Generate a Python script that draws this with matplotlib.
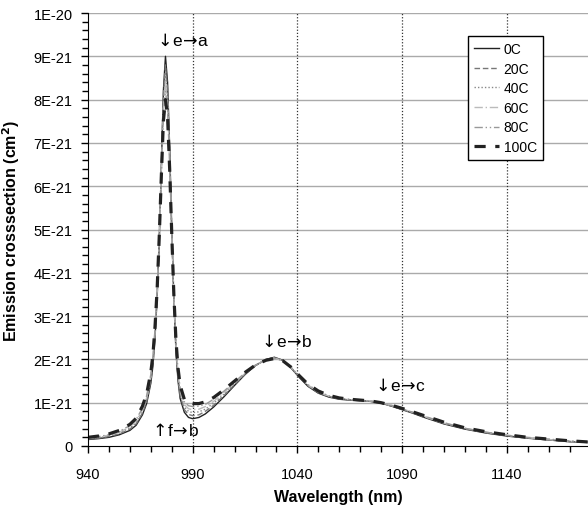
import matplotlib
matplotlib.use("Agg")
import matplotlib.pyplot as plt
from matplotlib.ticker import MultipleLocator, FixedLocator

plt.rcParams['font.family'] = ['Liberation Sans', 'DejaVu Sans']
plt.rcParams['mathtext.fontset'] = 'dejavusans'

# wavelength (nm)
wavelength = [940, 945, 950, 955, 960, 963, 966, 968, 970, 971, 972, 973, 974, 975,
              976, 977, 978, 979, 980, 981, 982, 983, 984, 986, 988, 990, 993, 996,
              1000, 1005, 1010, 1015, 1020, 1025, 1029, 1033, 1037, 1041, 1045, 1050,
              1055, 1060, 1065, 1070, 1075, 1080, 1085, 1090, 1095, 1100, 1110, 1120,
              1130, 1140, 1150, 1160, 1170, 1180]

# emission cross section, units of 1E-21 cm^2
sigma_0C = [0.15, 0.17, 0.20, 0.26, 0.36, 0.48, 0.72, 0.98, 1.45, 1.85, 2.50, 3.40, 4.70, 6.40,
            8.20, 9.00, 8.40, 6.90, 5.00, 3.40, 2.20, 1.50, 1.10, 0.78, 0.66, 0.63, 0.66, 0.74,
            0.90, 1.14, 1.40, 1.65, 1.86, 2.00, 2.05, 1.98, 1.80, 1.58, 1.38, 1.22,
            1.13, 1.08, 1.06, 1.05, 1.03, 0.99, 0.92, 0.84, 0.76, 0.67, 0.51, 0.39,
            0.30, 0.23, 0.18, 0.14, 0.10, 0.08]
sigma_20C = [0.16, 0.18, 0.22, 0.28, 0.39, 0.51, 0.76, 1.02, 1.50, 1.90, 2.55, 3.44, 4.72, 6.36,
             8.06, 8.80, 8.24, 6.80, 4.98, 3.42, 2.25, 1.56, 1.16, 0.84, 0.73, 0.70, 0.72, 0.80,
             0.94, 1.17, 1.42, 1.66, 1.86, 2.00, 2.04, 1.98, 1.80, 1.59, 1.39, 1.23,
             1.14, 1.09, 1.06, 1.05, 1.03, 0.99, 0.92, 0.85, 0.77, 0.68, 0.52, 0.40,
             0.31, 0.24, 0.18, 0.14, 0.10, 0.08]
sigma_40C = [0.17, 0.19, 0.23, 0.30, 0.42, 0.54, 0.80, 1.07, 1.55, 1.95, 2.60, 3.48, 4.74, 6.32,
             7.92, 8.60, 8.08, 6.70, 4.96, 3.44, 2.30, 1.62, 1.22, 0.90, 0.80, 0.77, 0.79, 0.85,
             0.99, 1.20, 1.44, 1.67, 1.86, 1.99, 2.04, 1.98, 1.81, 1.60, 1.40, 1.24,
             1.15, 1.09, 1.07, 1.05, 1.03, 0.99, 0.93, 0.85, 0.77, 0.69, 0.53, 0.40,
             0.31, 0.24, 0.19, 0.15, 0.11, 0.08]
sigma_60C = [0.18, 0.21, 0.25, 0.32, 0.44, 0.58, 0.84, 1.11, 1.60, 2.00, 2.65, 3.52, 4.76, 6.28,
             7.78, 8.40, 7.92, 6.60, 4.94, 3.46, 2.35, 1.68, 1.28, 0.96, 0.86, 0.84, 0.85, 0.91,
             1.03, 1.24, 1.46, 1.68, 1.87, 1.99, 2.03, 1.97, 1.81, 1.60, 1.41, 1.25,
             1.15, 1.10, 1.07, 1.06, 1.04, 1.00, 0.93, 0.86, 0.78, 0.69, 0.53, 0.41,
             0.32, 0.25, 0.19, 0.15, 0.11, 0.09]
sigma_80C = [0.19, 0.22, 0.26, 0.34, 0.47, 0.61, 0.88, 1.16, 1.65, 2.05, 2.70, 3.56, 4.78, 6.24,
             7.64, 8.20, 7.76, 6.50, 4.92, 3.48, 2.40, 1.74, 1.34, 1.02, 0.93, 0.91, 0.92, 0.96,
             1.08, 1.27, 1.48, 1.69, 1.87, 1.98, 2.03, 1.97, 1.82, 1.61, 1.42, 1.26,
             1.16, 1.10, 1.08, 1.06, 1.04, 1.00, 0.94, 0.86, 0.78, 0.70, 0.54, 0.41,
             0.32, 0.25, 0.20, 0.16, 0.12, 0.09]
sigma_100C = [0.20, 0.23, 0.28, 0.36, 0.50, 0.64, 0.92, 1.20, 1.70, 2.10, 2.75, 3.60, 4.80, 6.20,
              7.50, 8.00, 7.60, 6.40, 4.90, 3.50, 2.45, 1.80, 1.40, 1.08, 1.00, 0.98, 0.98, 1.02,
              1.12, 1.30, 1.50, 1.70, 1.87, 1.98, 2.02, 1.97, 1.82, 1.62, 1.43, 1.27,
              1.17, 1.11, 1.08, 1.06, 1.04, 1.00, 0.94, 0.87, 0.79, 0.71, 0.55, 0.42,
              0.33, 0.26, 0.20, 0.16, 0.12, 0.09]

series = [("0C", sigma_0C), ("20C", sigma_20C), ("40C", sigma_40C),
          ("60C", sigma_60C), ("80C", sigma_80C), ("100C", sigma_100C)]

styles = {
    "0C": dict(color="#222222", lw=1.0, ls="-"),
    "20C": dict(color="#777777", lw=1.0, ls=(0, (4, 2))),
    "40C": dict(color="#888888", lw=1.0, ls=(0, (1, 1.5))),
    "60C": dict(color="#bbbbbb", lw=1.0, ls=(0, (6, 2, 1, 2))),
    "80C": dict(color="#999999", lw=1.0, ls=(0, (6, 2, 1, 2, 1, 2))),
    "100C": dict(color="#222222", lw=2.3, ls=(0, (3.5, 3))),
}

y_ticks = [i * 1e-21 for i in range(11)]
y_labels = ["0"] + ["%dE-21" % i for i in range(1, 10)] + ["1E-20"]

fig = plt.figure(figsize=(5.88, 5.10), dpi=100)
ax = fig.add_axes([88 / 588, 63 / 510, 500 / 588, 433 / 510])

for name, vals in series:
    ax.plot(wavelength, [v * 1e-21 for v in vals], label=name, **styles[name])

ax.set_xlim(940, 1178.8)
ax.set_ylim(0, 1e-20)

ax.xaxis.set_major_locator(FixedLocator([940, 990, 1040, 1090, 1140]))
ax.xaxis.set_minor_locator(MultipleLocator(10))
ax.yaxis.set_major_locator(FixedLocator(y_ticks))
ax.yaxis.set_minor_locator(MultipleLocator(2e-22))
ax.set_yticklabels(y_labels)

for v in y_ticks[1:]:
    ax.axhline(v, color="#aaaaaa", lw=1.0, zorder=0)
for v in [990, 1040, 1090, 1140]:
    ax.axvline(v, color="#333333", lw=0.9, ls=(0, (1, 1.5)), zorder=0)

ax.spines['top'].set_visible(False)
ax.spines['right'].set_visible(False)
ax.tick_params(axis='both', which='both', direction='out', labelsize=10.5, width=1)
ax.tick_params(axis='both', which='major', length=5)
ax.tick_params(axis='both', which='minor', length=4)
ax.tick_params(axis='x', which='major', pad=10)
ax.tick_params(axis='y', which='major', pad=6)

ax.set_xlabel("Wavelength (nm)", fontsize=11.5, fontweight='bold', labelpad=6)
ax.set_ylabel("Emission crosssection (cm$^\\mathbf{2}$)", fontsize=11.5, fontweight='bold', labelpad=8)

# transition labels; \! pulls the arrows in closer to the letters
ann = dict(fontsize=12.5, va='center', ha='left')
ax.text(971.6, 9.38e-21, "$\\downarrow\\!$e$\\!\\rightarrow\\!$a", **ann)
ax.text(969.2, 0.37e-21, "$\\uparrow\\!$f$\\!\\rightarrow\\!$b", **ann)
ax.text(1021.2, 2.42e-21, "$\\downarrow\\!$e$\\!\\rightarrow\\!$b", **ann)
ax.text(1075.6, 1.41e-21, "$\\downarrow\\!$e$\\!\\rightarrow\\!$c", **ann)

leg = ax.legend(loc='upper right', bbox_to_anchor=(0.91, 0.947), fontsize=10,
                frameon=True, fancybox=False, edgecolor='black', framealpha=1,
                handlelength=1.8, handletextpad=0.3, labelspacing=0.4,
                borderpad=0.45, borderaxespad=0)
leg.get_frame().set_linewidth(1.0)

fig.savefig("out.png", dpi=100)
